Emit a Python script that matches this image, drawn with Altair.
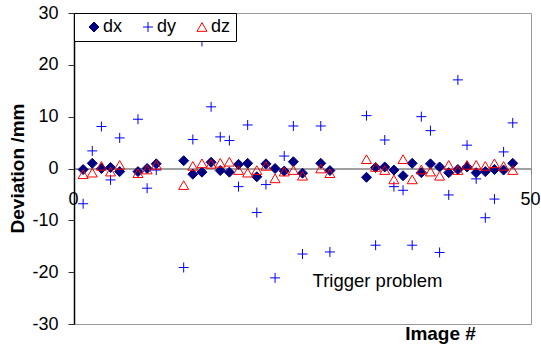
import altair as alt
import pandas as pd

# ---- data ----
image_no = [1, 2, 3, 4, 5, 7, 8, 9, 12, 13, 14, 15, 16, 17, 18, 19, 20, 21, 22, 23, 24,
            25, 27, 28, 32, 33, 34, 35, 36, 37, 38, 39, 40, 41, 42, 43, 44, 45, 46, 47, 48]
dx = [-0.2, 1.0, 0.0, 0.2, -0.6, -0.6, 0.0, 0.9, 1.5, -1.1, -0.7, 1.2, -0.4, -0.7, 0.8, 1.0,
      -1.6, 0.9, 0.0, -0.5, 1.3, -0.9, 1.0, -0.4, -1.7, 0.2, 0.3, -0.3, -1.4, 1.0, -0.8, 0.9,
      0.3, -0.8, -0.2, 0.3, -0.8, -0.6, -0.2, -0.3, 1.0]
dy = [-6.8, 3.4, 8.1, -2.2, 5.9, 9.5, -3.8, -0.3, -19.1, 5.6, 24.5, 11.9, 6.1, 5.4, -3.5,
      8.4, -8.5, -3.1, -21.1, 2.4, 8.2, -16.5, 8.2, -16.1, 10.2, -14.8, 5.5, -3.5, -4.2,
      -14.8, 10.0, 7.3, -16.2, -5.1, 17.1, 4.5, -2.0, -9.5, -5.9, 3.2, 8.8]
dz = [-1.1, -0.8, 0.5, -0.6, 0.7, -0.9, -0.2, 0.7, -3.2, 0.5, 1.0, 0.9, 1.1, 1.3, -0.3,
      -0.8, -0.3, 0.5, -1.9, -0.6, -0.3, -1.4, 0.0, -0.9, 1.8, 0.3, -0.3, -2.1, 1.8, -2.1,
      -0.2, -0.6, -1.4, 0.7, -0.3, 0.7, 0.7, 0.5, 1.0, 0.5, -0.3]

series = ["dx", "dy", "dz"]
y_ticks = [-30, -20, -10, 0, 10, 20, 30]
x_ticks = [0, 50]
note_text = "Trigger problem"
note_x = 26.1
note_y = -21.7

df = pd.DataFrame({"image": image_no, "dx": dx, "dy": dy, "dz": dz})
long = df.melt(id_vars="image", value_vars=series, var_name="series", value_name="dev")
note = pd.DataFrame({"image": [note_x], "dev": [note_y], "label": [note_text]})

FONT = "Liberation Sans"
PLUS = "M-1,0L1,0M0,-1L0,1"

legend = alt.Legend(
    title=None, orient="none", legendX=0, legendY=0, direction="horizontal", columns=3,
    padding=5, symbolOffset=6, labelOffset=0, columnPadding=10,
    labelFont=FONT, labelFontSize=18, labelColor="black",
    strokeColor="black", fillColor="white", symbolSize=100, symbolStrokeWidth=1,
)

xscale = alt.Scale(domain=[0, 50], nice=False, zero=False)
yscale = alt.Scale(domain=[-30, 30], nice=False)

xaxis = alt.Axis(
    values=x_ticks, offset=-155.5, grid=False, labelFlush=False, labelOffset=-1,
    domainColor="#808080", domainWidth=1.5, tickColor="#808080", tickSize=6,
    labelPadding=16, labelFont=FONT, labelFontSize=18, labelColor="black",
    title="Image #", titleFont=FONT, titleFontSize=19, titleFontWeight="bold",
    titleColor="black", titleX=366, titleY=164.5, titleAlign="center", titleBaseline="middle",
)
yaxis = alt.Axis(
    values=y_ticks, grid=False,
    labelExpr="datum.value < 0 ? '-' + (-datum.value) : '' + datum.value",
    domainColor="black", domainWidth=1.5, tickColor="#333333", tickSize=6,
    labelPadding=10, labelFont=FONT, labelFontSize=18, labelColor="black",
    title="Deviation /mm", titleFont=FONT, titleFontSize=19, titleFontWeight="bold",
    titleColor="black", titleX=-57, titleY=155, titleAngle=270,
    titleAlign="center", titleBaseline="middle",
)

points = alt.Chart(long).mark_point(strokeWidth=1, opacity=1, size=100).encode(
    x=alt.X("image:Q", scale=xscale, axis=xaxis),
    y=alt.Y("dev:Q", scale=yscale, axis=yaxis),
    shape=alt.Shape("series:N", scale=alt.Scale(domain=series, range=["diamond", PLUS, "triangle-up"]), legend=legend),
    stroke=alt.Stroke("series:N", scale=alt.Scale(domain=series, range=["#000080", "#0000FF", "#FF0000"]), legend=legend),
    fill=alt.Fill("series:N", scale=alt.Scale(domain=series, range=["#000080", "transparent", "transparent"]), legend=legend),
)

text = alt.Chart(note).mark_text(align="left", baseline="middle", font=FONT, fontSize=18.5, color="black").encode(
    x=alt.X("image:Q", scale=xscale),
    y=alt.Y("dev:Q", scale=yscale),
    text="label:N",
)

chart = alt.layer(points, text).properties(
    width=457, height=311,
    autosize=alt.AutoSizeParams(type="none"),
    padding={"left": 74, "top": 13, "right": 10, "bottom": 20},
    background="white",
).configure_view(stroke="#999999", strokeWidth=1)

chart.save("out.html", embed_options={"renderer": "svg", "actions": False})
